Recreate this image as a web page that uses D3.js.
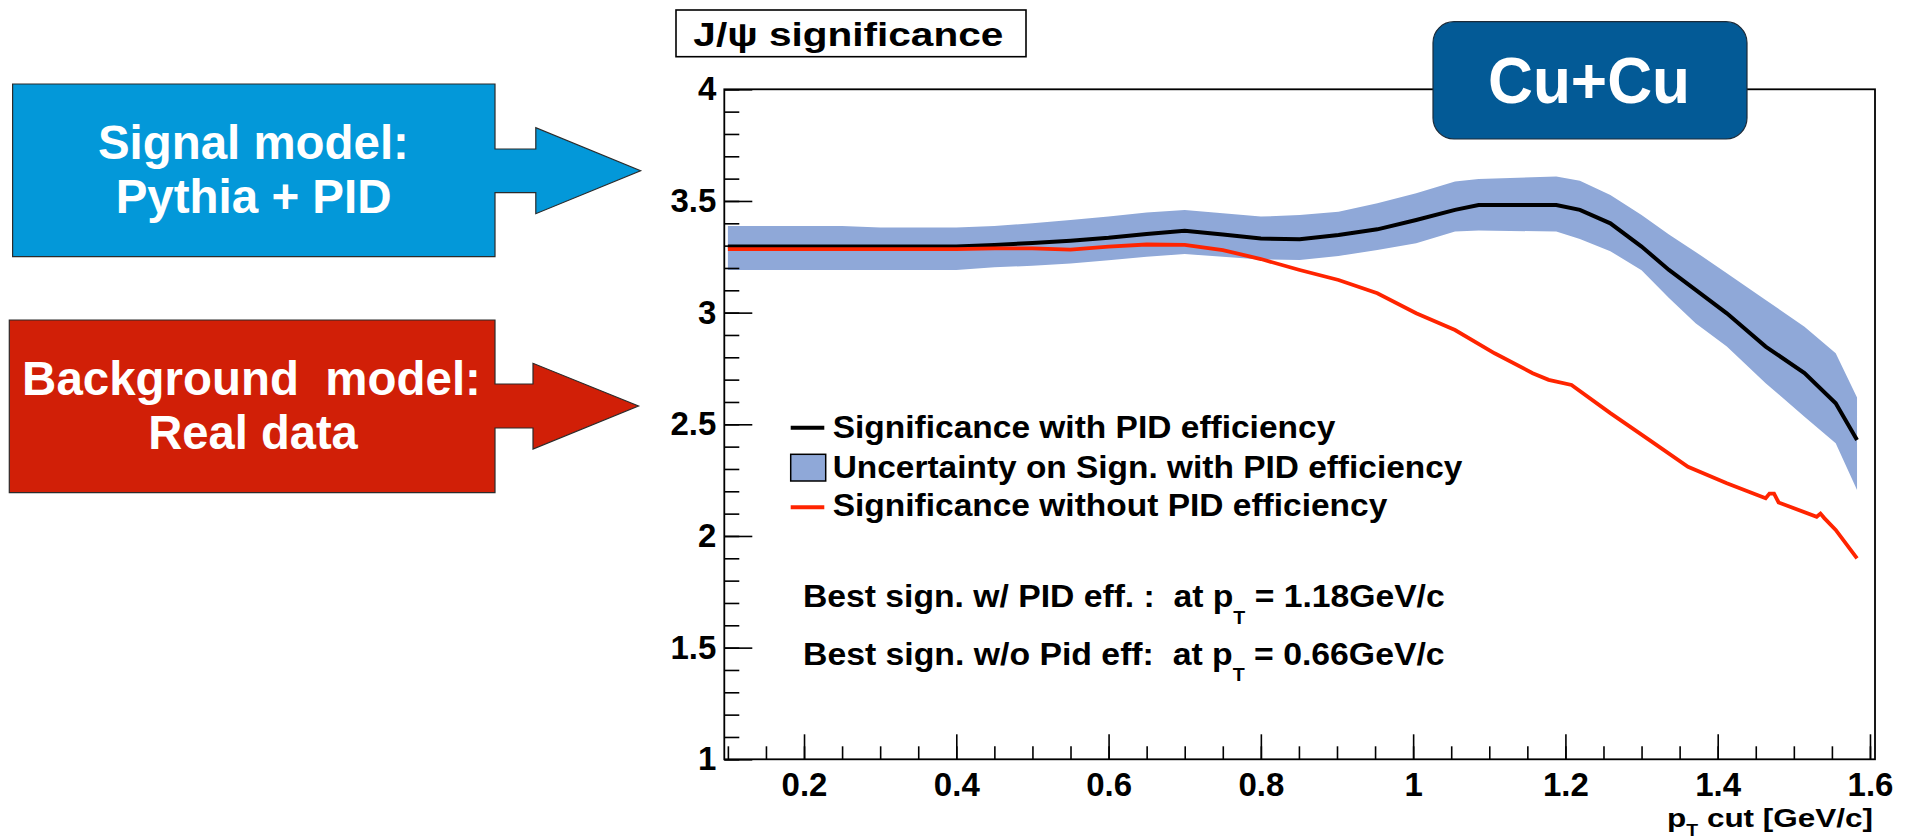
<!DOCTYPE html>
<html>
<head>
<meta charset="utf-8">
<script src="https://cdn.jsdelivr.net/npm/d3@7"></script>
<style>
  body { margin: 0; background: #fff; }
  text { font-family: "Liberation Sans", Arial, sans-serif; font-weight: bold; white-space: pre; }
</style>
</head>
<body>
<svg id="chart" width="1909" height="840"></svg>
<script>
// pT cut values where the PID curve and its band were read
const ptCut = [0.10, 0.15, 0.20, 0.25, 0.30, 0.35, 0.40, 0.45, 0.50, 0.55, 0.60, 0.65, 0.70, 0.75, 0.80,
  0.851, 0.902, 0.953, 1.004, 1.055, 1.086, 1.188, 1.219, 1.259, 1.300, 1.336, 1.371, 1.412, 1.463,
  1.514, 1.555, 1.583];
const sigPid = [3.296, 3.296, 3.296, 3.296, 3.296, 3.296, 3.296, 3.303, 3.312, 3.322, 3.335, 3.352, 3.367,
  3.350, 3.332, 3.329, 3.348, 3.373, 3.415, 3.460, 3.482, 3.482, 3.460, 3.400, 3.296, 3.191, 3.102,
  2.997, 2.848, 2.729, 2.594, 2.430];
const sigPidHi = [3.388, 3.388, 3.388, 3.388, 3.381, 3.381, 3.381, 3.388, 3.400, 3.415, 3.430, 3.448, 3.460,
  3.445, 3.430, 3.437, 3.452, 3.490, 3.535, 3.587, 3.598, 3.610, 3.590, 3.527, 3.437, 3.350, 3.272,
  3.176, 3.057, 2.937, 2.818, 2.620];
const sigPidLo = [3.191, 3.191, 3.191, 3.191, 3.191, 3.191, 3.191, 3.203, 3.210, 3.220, 3.235, 3.250, 3.262,
  3.250, 3.238, 3.236, 3.254, 3.281, 3.311, 3.363, 3.368, 3.363, 3.330, 3.275, 3.190, 3.065, 2.953,
  2.848, 2.684, 2.534, 2.415, 2.206];

// the curve without PID efficiency
const ptCutNoPid = [0.10, 0.15, 0.20, 0.25, 0.30, 0.35, 0.40, 0.45, 0.50, 0.55, 0.60, 0.65, 0.70, 0.75,
  0.80, 0.851, 0.902, 0.953, 1.004, 1.055, 1.107, 1.157, 1.178, 1.208, 1.259, 1.310, 1.361, 1.412,
  1.463, 1.468, 1.474, 1.480, 1.530, 1.535, 1.540, 1.555, 1.583];
const sigNoPid = [3.284, 3.284, 3.284, 3.284, 3.284, 3.284, 3.284, 3.288, 3.288, 3.282, 3.296, 3.305, 3.303,
  3.280, 3.240, 3.191, 3.146, 3.087, 2.997, 2.922, 2.818, 2.729, 2.699, 2.676, 2.550, 2.430, 2.310,
  2.236, 2.169, 2.190, 2.190, 2.150, 2.086, 2.100, 2.080, 2.027, 1.900];

const xTicks = [0.2, 0.4, 0.6, 0.8, 1.0, 1.2, 1.4, 1.6];
const yTicks = [1, 1.5, 2, 2.5, 3, 3.5, 4];
const legendLabels = [
  "Significance with PID efficiency",
  "Uncertainty on Sign. with PID efficiency",
  "Significance without PID efficiency",
];
const bestLines = [
  ["Best sign. w/ PID eff. :  at p", "T", " = 1.18GeV/c"],
  ["Best sign. w/o Pid eff:  at p", "T", " = 0.66GeV/c"],
];

const bandColor = "#8fa8d8";
const redColor = "#ff2400";

const svg = d3.select("#chart");
const plot = { left: 724.3, right: 1875, top: 89.3, bottom: 759.3 };

const x = d3.scaleLinear().domain([0.0953, 1.6066]).range([plot.left, plot.right]);
const y = d3.scaleLinear().domain([1, 4]).range([plot.bottom, plot.top]);

// squeeze or stretch a text horizontally so it spans the given width
function place(sel, px, py, width) {
  const w = sel.node().getBBox().width;
  sel.attr("transform", `translate(${px},${py}) scale(${width / w},1)`);
}

// left side boxes with arrows
svg.append("path")
  .attr("d", "M12.6,84H495V149H535.8V127.7L640.6,170.7L535.8,213.7V192.7H495V256.7H12.6Z")
  .attr("fill", "#0398d9").attr("stroke", "#2b2b2b").attr("stroke-width", 1.2);
svg.append("path")
  .attr("d", "M9.3,320H495V384H533V363.3L638.5,406L533,449V428H495V492.7H9.3Z")
  .attr("fill", "#d11f07").attr("stroke", "#2b2b2b").attr("stroke-width", 1.2);

const boxText = [
  ["Signal model:", 253.4, 159.3, 311],
  ["Pythia + PID", 253.6, 213.3, 276],
  ["Background  model:", 251.5, 395, 459],
  ["Real data", 253, 449.3, 210],
];
boxText.forEach(([s, px, py, w]) => {
  const t = svg.append("text").attr("text-anchor", "middle").attr("font-size", 48)
    .attr("fill", "#fff").text(s);
  place(t, px, py, w);
});

// title box
svg.append("rect").attr("x", 676).attr("y", 10).attr("width", 350).attr("height", 46.7)
  .attr("fill", "#fff").attr("stroke", "#000").attr("stroke-width", 1.6);
place(svg.append("text").attr("text-anchor", "middle").attr("font-size", 34).text("J/\u03c8 significance"),
  848.3, 45.5, 310);

// frame
svg.append("rect")
  .attr("x", plot.left).attr("y", plot.top)
  .attr("width", plot.right - plot.left).attr("height", plot.bottom - plot.top)
  .attr("fill", "none").attr("stroke", "#000").attr("stroke-width", 1.8);

svg.append("clipPath").attr("id", "clip").append("rect")
  .attr("x", plot.left).attr("y", plot.top)
  .attr("width", plot.right - plot.left).attr("height", plot.bottom - plot.top);
const area = svg.append("g").attr("clip-path", "url(#clip)");

const band = d3.area()
  .x((d, i) => x(ptCut[i]))
  .y0((d, i) => y(sigPidLo[i]))
  .y1((d, i) => y(sigPidHi[i]));
area.append("path").datum(ptCut).attr("d", band).attr("fill", bandColor);

const line = d3.line().x((d) => x(d[0])).y((d) => y(d[1]));
area.append("path")
  .datum(d3.zip(ptCut, sigPid))
  .attr("d", line).attr("fill", "none").attr("stroke", "#000").attr("stroke-width", 4);
area.append("path")
  .datum(d3.zip(ptCutNoPid, sigNoPid))
  .attr("d", line).attr("fill", "none").attr("stroke", redColor).attr("stroke-width", 3.8);

// axes, ticks drawn inward like ROOT; minor and major in their own groups
const fmt = d3.format("~g");
const bottom = `translate(0,${plot.bottom})`;
const left = `translate(${plot.left},0)`;
svg.append("g").attr("transform", bottom)
  .call(d3.axisBottom(x).tickValues(d3.range(2, 33).map((i) => i * 0.05)).tickSize(-13).tickFormat(""));
svg.append("g").attr("transform", bottom)
  .call(d3.axisBottom(x).tickValues(xTicks).tickSize(-25).tickPadding(13).tickFormat(fmt));
svg.append("g").attr("transform", left)
  .call(d3.axisLeft(y).tickValues(d3.range(10, 41).map((i) => i / 10)).tickSize(-15).tickFormat(""));
svg.append("g").attr("transform", left)
  .call(d3.axisLeft(y).tickValues(yTicks).tickSize(-28).tickPadding(8).tickFormat(fmt));

svg.selectAll(".domain").remove();
svg.selectAll(".tick line").attr("stroke", "#000").attr("stroke-width", 1.6);
svg.selectAll(".tick text")
  .attr("font-size", 33).attr("fill", "#000")
  .attr("font-family", "'Liberation Sans', Arial, sans-serif").attr("font-weight", "bold");

// x axis title
const xt = svg.append("text").attr("text-anchor", "end").attr("font-size", 26);
xt.append("tspan").text("p");
xt.append("tspan").attr("font-size", 16).attr("dy", 9).text("T");
xt.append("tspan").attr("dy", -9).text(" cut [GeV/c]");
place(xt, 1873, 827, 206);

// legend
const legend = svg.append("g");
legend.append("line").attr("x1", 790.7).attr("x2", 824.3).attr("y1", 427.7).attr("y2", 427.7)
  .attr("stroke", "#000").attr("stroke-width", 4);
legend.append("rect").attr("x", 790.7).attr("y", 454.3).attr("width", 35).attr("height", 26.7)
  .attr("fill", bandColor).attr("stroke", "#000").attr("stroke-width", 1.5);
legend.append("line").attr("x1", 790.7).attr("x2", 824.3).attr("y1", 507.3).attr("y2", 507.3)
  .attr("stroke", redColor).attr("stroke-width", 4);
const legendY = [437.5, 477.5, 516];
const legendW = [503, 630, 555];
legendLabels.forEach((s, i) => {
  place(legend.append("text").attr("font-size", 32).text(s), 832.7, legendY[i], legendW[i]);
});

// best significance notes
const bestY = [607, 664.5];
bestLines.forEach(([a, sub, b], i) => {
  const t = svg.append("text").attr("font-size", 31);
  t.append("tspan").text(a);
  t.append("tspan").attr("font-size", 18).attr("dy", 17).text(sub);
  t.append("tspan").attr("dy", -17).text(b);
  place(t, 803, bestY[i], 642);
});

// Cu+Cu label
svg.append("rect").attr("x", 1433).attr("y", 21.7).attr("width", 314).attr("height", 117.3)
  .attr("rx", 21).attr("fill", "#035a96").attr("stroke", "#1c2a38").attr("stroke-width", 1.2);
place(svg.append("text").attr("text-anchor", "middle").attr("font-size", 65).attr("fill", "#fff").text("Cu+Cu"),
  1589, 103.3, 202);
</script>
</body>
</html>
